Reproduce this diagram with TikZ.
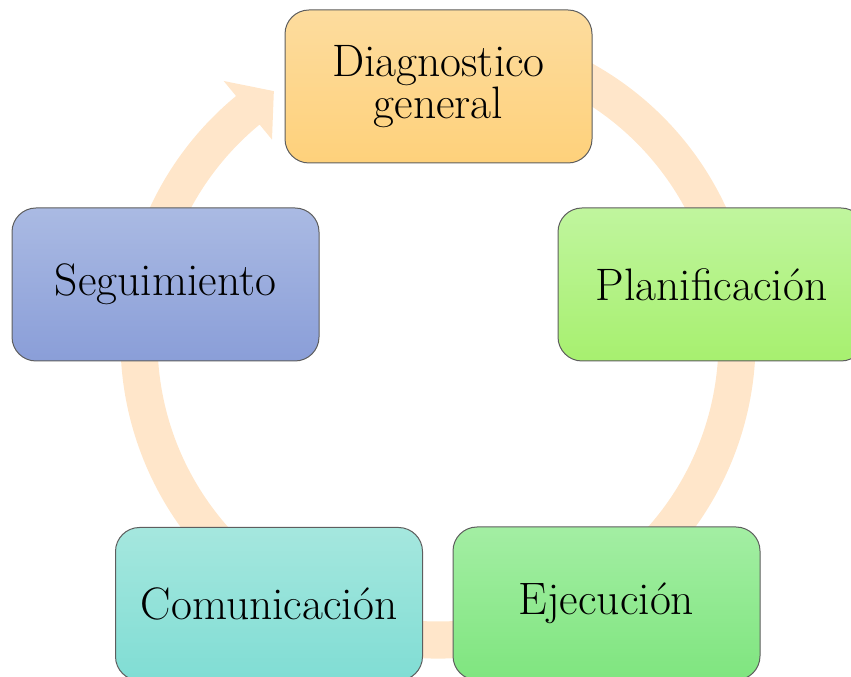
\documentclass[tikz,border=0pt]{standalone}
\usepackage{fontspec}
\definecolor{bandc}{HTML}{FFE6CA}
\definecolor{boxline}{HTML}{5E5E5E}
\definecolor{dgT}{HTML}{FDDC9E}
\definecolor{dgB}{HTML}{FED17B}
\definecolor{plT}{HTML}{C0F59E}
\definecolor{plB}{HTML}{A7F06F}
\definecolor{ejT}{HTML}{A3EEA3}
\definecolor{ejB}{HTML}{7FE57F}
\definecolor{coT}{HTML}{A5E7DE}
\definecolor{coB}{HTML}{80DDD4}
\definecolor{seT}{HTML}{AABAE3}
\definecolor{seB}{HTML}{8A9ED8}
\begin{document}
\begin{tikzpicture}[x=1pt,y=1pt,
  box/.style={draw=boxline, line width=1pt, rounded corners=24pt,
    minimum width=307pt, minimum height=153pt, inner sep=0pt,
    font=\fontsize{45.5pt}{40pt}\selectfont, align=center, text=black},
  bandshape/.style={fill=bandc}]
\useasboundingbox (0,0) rectangle (851,677);
\coordinate (c) at (438,336);
\coordinate (h1) at ([shift={(129.5:337pt)}]c);
\coordinate (h2) at ([shift={(123.3:299pt)}]c);
\coordinate (h3) at ([shift={(129.5:261pt)}]c);
\path[bandshape] ([shift={(110:317.5pt)}]c)
  arc[start angle=110,end angle=-230.5,radius=317.5pt]
  -- (h1) -- (h2) -- (h3)
  -- ([shift={(129.5:280.5pt)}]c)
  arc[start angle=129.5,end angle=470,radius=280.5pt] -- cycle;
\node[box, top color=dgT, bottom color=dgB] (diag) at (438.5,590.5) {Diagnostico\\general};
\node[box, top color=plT, bottom color=plB] (plan) at (711.5,392.5) {Planificación};
\node[box, top color=ejT, bottom color=ejB] (ejec) at (606.5,73.5) {Ejecución};
\node[box, top color=coT, bottom color=coB] (comu) at (269,73) {Comunicación};
\node[box, top color=seT, bottom color=seB] (segu) at (165.5,392.5) {Seguimiento};
\end{tikzpicture}
\end{document}
